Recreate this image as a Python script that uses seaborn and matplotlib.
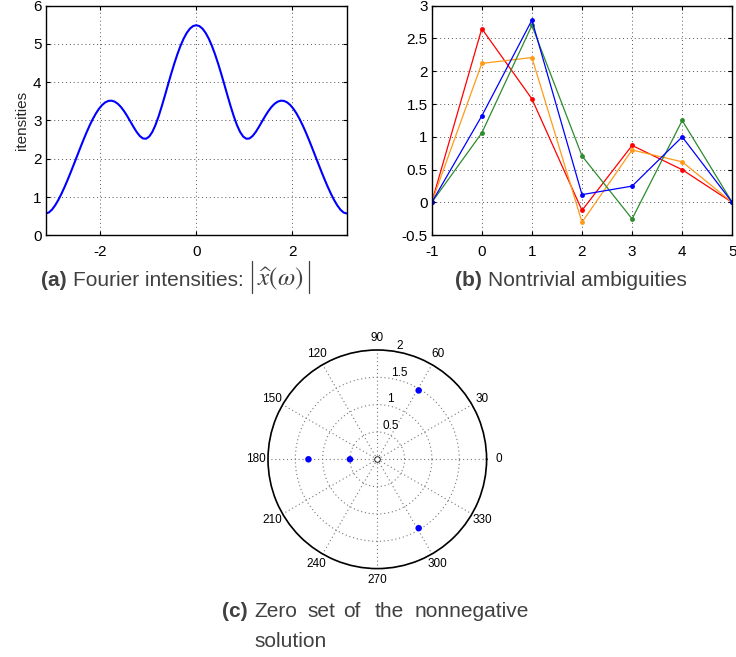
import numpy as np
import pandas as pd
import matplotlib
matplotlib.use("Agg")
import matplotlib.pyplot as plt
from matplotlib.lines import Line2D
import seaborn as sns

# (a) Fourier intensities |x^(w)|, -pi .. pi
omega = np.linspace(-np.pi, np.pi, 97)
intensity = [0.570, 0.596, 0.670, 0.781, 0.920, 1.081, 1.259, 1.450, 1.651, 1.859,
             2.070, 2.280, 2.486, 2.683, 2.867, 3.035, 3.183, 3.307, 3.405, 3.474,
             3.512, 3.518, 3.493, 3.437, 3.353, 3.244, 3.115, 2.975, 2.833, 2.701,
             2.596, 2.531, 2.523, 2.579, 2.700, 2.880, 3.107, 3.367, 3.646, 3.933,
             4.215, 4.484, 4.732, 4.953, 5.140, 5.291, 5.401, 5.468,
             5.490,
             5.468, 5.401, 5.291, 5.140, 4.953, 4.732, 4.484, 4.215, 3.933, 3.646,
             3.367, 3.107, 2.880, 2.700, 2.579, 2.523, 2.531, 2.596, 2.701, 2.833,
             2.975, 3.115, 3.244, 3.353, 3.437, 3.493, 3.518, 3.512, 3.474, 3.405,
             3.307, 3.183, 3.035, 2.867, 2.683, 2.486, 2.280, 2.070, 1.859, 1.651,
             1.450, 1.259, 1.081, 0.920, 0.781, 0.670, 0.596, 0.570]

# (b) nontrivial ambiguities (signals padded with zeros at -1 and 5)
n = [-1, 0, 1, 2, 3, 4, 5]
sig_red = [0, 2.65, 1.58, -0.12, 0.87, 0.50, 0]
sig_orange = [0, 2.12, 2.21, -0.30, 0.80, 0.62, 0]
sig_green = [0, 1.06, 2.70, 0.71, -0.25, 1.25, 0]
sig_blue = [0, 1.32, 2.78, 0.12, 0.25, 1.00, 0]

# (c) zeros of the nonnegative solution (angle in degrees, modulus)
zero_angle = [180, 180, 59, -59]
zero_mod = [0.50, 1.26, 1.47, 1.47]

sns.set_theme(style="ticks")
plt.rcParams["font.family"] = ["Liberation Sans", "DejaVu Sans"]
plt.rcParams["mathtext.fontset"] = "stix"
plt.rcParams["axes.unicode_minus"] = False

fig = plt.figure(figsize=(7.36, 6.57), dpi=100)
W, H = 736, 657
cap_color = "#404040"
cap_size = 15
grid_kw = dict(color="#555555", linestyle=(0, (1, 3)), linewidth=0.7)


def style_box(ax):
    for s in ax.spines.values():
        s.set_color("black")
        s.set_linewidth(1.0)
    ax.tick_params(direction="in", length=3, width=0.8, top=True, right=True,
                   labelsize=11, colors="black")
    ax.tick_params(axis="x", pad=7)
    ax.tick_params(axis="y", pad=3)
    ax.grid(True, **grid_kw)


# panel (a)
ax_a = fig.add_axes([45.7 / W, 1 - 235.3 / H, 301 / W, 229.6 / H])
sns.lineplot(x=omega, y=intensity, ax=ax_a, color="#0000ff", linewidth=1.5)
ax_a.set_xlim(-np.pi, np.pi)
ax_a.set_ylim(0, 6)
ax_a.set_xticks([-2, 0, 2])
ax_a.set_yticks([0, 1, 2, 3, 4, 5, 6])
ax_a.set_ylabel("itensities", fontsize=11, labelpad=3)
style_box(ax_a)

# panel (b)
ax_b = fig.add_axes([431.7 / W, 1 - 235.3 / H, 300.6 / W, 229.6 / H])
for vals, col in [(sig_red, "#ff0000"), (sig_orange, "#ff9a1a"),
                  (sig_green, "#2e8b2e"), (sig_blue, "#0000ff")]:
    sns.lineplot(x=n, y=vals, ax=ax_b, color=col, linewidth=0.9,
                 marker="o", markersize=3.5, markeredgewidth=0)
ax_b.set_xlim(-1, 5)
ax_b.set_ylim(-0.5, 3)
ax_b.set_xticks(n)
ax_b.set_yticks([-0.5, 0, 0.5, 1, 1.5, 2, 2.5, 3])
ax_b.set_yticklabels(["-0.5", "0", "0.5", "1", "1.5", "2", "2.5", "3"])
ax_b.set_xticklabels([str(v) for v in n])
style_box(ax_b)

# panel (c)
ax_c = fig.add_axes([268 / W, 1 - 568.6 / H, 218.6 / W, 218.6 / H], projection="polar")
sns.scatterplot(x=np.deg2rad(zero_angle), y=zero_mod, ax=ax_c, color="#0000ff",
                s=22, edgecolor="none", zorder=3)
ax_c.plot([0], [0], marker="o", markersize=4, markerfacecolor="white",
          markeredgecolor="black", markeredgewidth=0.6, zorder=4)
ax_c.set_ylim(0, 2)
ax_c.set_rticks([0.5, 1, 1.5, 2])
ax_c.set_yticklabels(["0.5", "1", "1.5", "2"])
ax_c.set_rlabel_position(80)
angles = list(range(0, 360, 30))
ax_c.set_thetagrids(angles, labels=[str(a) for a in angles])
ax_c.grid(True, color="#777777", linestyle=(0, (1, 2.5)), linewidth=0.8)
ax_c.spines["polar"].set_color("black")
ax_c.spines["polar"].set_linewidth(1.2)
ax_c.tick_params(labelsize=8.5, colors="black")
ax_c.tick_params(axis="x", pad=1.5, length=0)
ax_c.set_xlabel("")
ax_c.set_ylabel("")


def cap(x, y, s, bold=False, size=cap_size):
    return fig.text(x / W, 1 - y / H, s, fontsize=size, color=cap_color, ha="left",
                    va="baseline", fontweight="bold" if bold else "normal")


renderer = fig.canvas.get_renderer()

cap(40.7, 285.5, "(a)", bold=True)
t1 = cap(72.7, 285.5, "Fourier intensities:")
x_end = t1.get_window_extent(renderer).x1
tm = fig.text((x_end + 14) / W, 1 - 285.5 / H, r"$\widehat{x}(\omega)$", fontsize=18,
              color=cap_color, ha="left", va="baseline")
bb = tm.get_window_extent(renderer)
base = H - 285.5
for xb in (bb.x0 - 5, bb.x1 + 5):
    fig.add_artist(Line2D([xb / W, xb / W], [(base - 8) / H, (base + 25) / H],
                          color=cap_color, linewidth=0.9))

cap(455, 285.5, "(b)", bold=True)
cap(487.5, 285.5, "Nontrivial ambiguities")

cap(222, 617.3, "(c)", bold=True)
for word, x in [("Zero", 254.3), ("set", 307.7), ("of", 343.3), ("the", 374.3),
                ("nonnegative", 415)]:
    cap(x, 617.3, word)
cap(254.3, 646.7, "solution")

fig.savefig("out.png", dpi=100)
